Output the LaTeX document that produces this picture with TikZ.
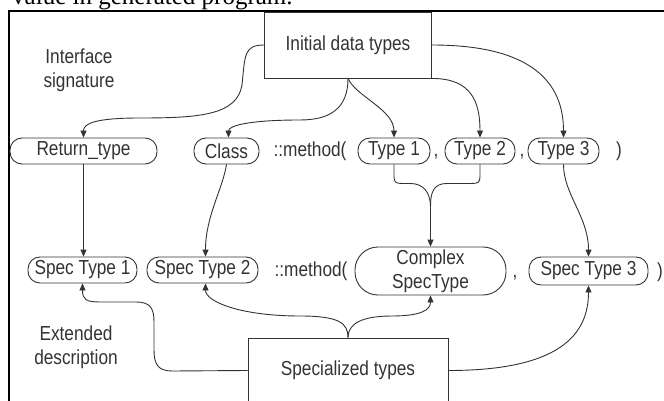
\documentclass[tikz,border=0pt]{standalone}
\usepackage{fontspec}
\setmainfont{Liberation Sans}[FakeStretch=0.85]
\newfontfamily\capfont{Liberation Serif}
\usetikzlibrary{arrows.meta}
\definecolor{ink}{HTML}{333333}
\begin{document}
\begin{tikzpicture}[x=1pt,y=-1pt,
  font=\fontsize{20.3}{24}\selectfont,
  wire/.style={draw=ink,line width=0.9pt},
  arr/.style={wire,-{Triangle[length=7pt,width=6pt]}},
  pill/.style={draw=ink,line width=0.9pt,rounded corners=12pt,minimum height=26pt,inner sep=0pt,text=ink},
  typebox/.style={draw=ink,line width=0.9pt,inner sep=0pt,text=ink},
  plain/.style={inner sep=0pt,text=ink}]
\useasboundingbox (0,0) rectangle (664,401);
\node[anchor=base west,inner sep=0pt,font=\capfont\fontsize{25}{30}\selectfont] (cap) at (12,5) {value in generated program.};
\draw[line width=2.2pt] (9.3,401) -- (9.3,11) -- (664,11);
% boxes and labels
\node[typebox,minimum width=167pt,minimum height=66pt] (init) at (348,45) {Initial data types};
\node[typebox,minimum width=200pt,minimum height=65pt] (spec) at (348,370.5) {Specialized types};
\node[plain,align=center] (iface) at (79,70) {Interface\\signature};
\node[plain,align=center] (ext) at (76,347) {Extended\\description};
% interface signature
\node[pill,minimum width=147pt] (ret) at (83.5,151) {Return\_type};
\node[pill,minimum width=65pt] (cls) at (226.5,151) {Class};
\node[plain,anchor=base] (m1) at (310,157) {::method(};
\node[pill,minimum width=72pt] (t1) at (394,151) {Type 1};
\node[plain,anchor=base] (c1) at (436,157) {,};
\node[pill,minimum width=70pt] (t2) at (480,151) {Type 2};
\node[plain,anchor=base] (c2) at (522,157) {,};
\node[pill,minimum width=71pt] (t3) at (563.5,151) {Type 3};
\node[plain,anchor=base] (p1) at (619,157) {)};
% extended description
\node[pill,minimum width=109pt] (st1) at (82.5,270) {Spec Type 1};
\node[pill,minimum width=111pt] (st2) at (202.5,270) {Spec Type 2};
\node[plain,anchor=base] (m2) at (311,276) {::method(};
\node[pill,minimum width=151pt,minimum height=48pt,rounded corners=23pt,align=center] (cst) at (430.5,271) {Complex\\SpecType};
\node[plain,anchor=base] (c3) at (515,277) {,};
\node[pill,minimum width=119pt,minimum height=28pt] (st3) at (588.5,271) {Spec Type 3};
\node[plain,anchor=base] (p2) at (660,277) {)};
\coordinate (mrg) at (430.5,207);
% from initial data types
\draw[arr] (init.west) .. controls +(-20,0) and +(3,-30) .. (242,85) .. controls +(-5,30) and +(60,0) .. (140,118) .. controls +(-45,0) and +(0,-14) .. (ret.north);
\draw[arr] (init.south) .. controls +(0,30) and +(30,0) .. (300,120) .. controls +(-50,0) and +(0,-12) .. ([xshift=2pt]cls.north);
\draw[arr] (init.south) .. controls +(8,18) and +(0,-28) .. (t1.north);
\draw[arr] (init.south east) .. controls +(40,0) and +(0,-35) .. (t2.north);
\draw[arr] (init.east) .. controls +(100,0) and +(0,-55) .. (t3.north);
% signature to description
\draw[arr] (ret.south) -- (ret.south |- st1.north);
\draw[arr] (cls.south) .. controls +(-4,25) and +(0,-40) .. ([xshift=3pt]st2.north);
\draw[wire] (t1.south) -- ++(0,12) .. controls +(0,6) and +(-6,0) .. ++(8,7) -- ++(8,0) .. controls +(14,0) and +(0,-14) .. (mrg);
\draw[wire] (t2.south) -- ++(0,12) .. controls +(0,6) and +(6,0) .. ++(-8,7) -- ++(-25,0) .. controls +(-14,0) and +(0,-14) .. (mrg);
\draw[arr] (mrg) -- (cst.north);
\draw[arr] (t3.south) .. controls +(0,30) and +(0,-40) .. (st3.north);
% from specialized types
\draw[arr] (spec.west) -- (172,371) .. controls +(-14,0) and +(0,14) .. (154,350) -- (154,322) .. controls +(0,-14) and +(14,0) .. (136,302) -- (100,302) .. controls +(-14,0) and +(0,16) .. (st1.south);
\draw[arr] (spec.north) .. controls +(0,-14) and +(40,0) .. (300,316) .. controls +(-60,0) and +(0,18) .. ([xshift=3pt]st2.south);
\draw[arr] (spec.north) .. controls +(0,-14) and +(-30,0) .. (392,316) .. controls +(30,0) and +(0,14) .. (cst.south);
\draw[arr] (spec.east) .. controls +(110,0) and +(0,50) .. (st3.south);
\end{tikzpicture}
\end{document}
